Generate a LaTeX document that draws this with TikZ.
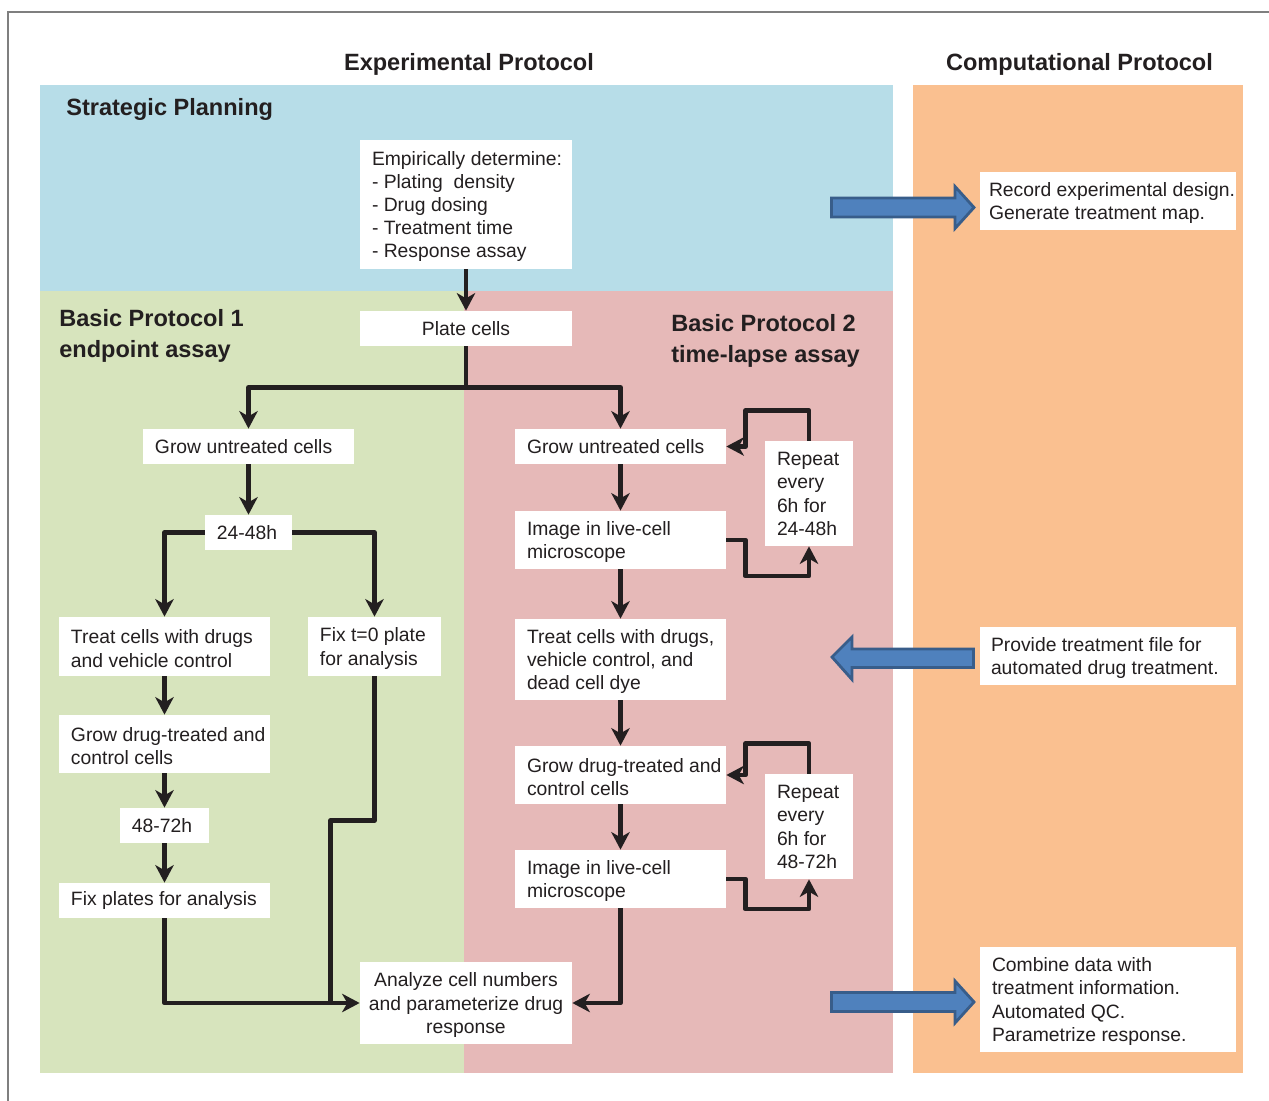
\documentclass[tikz,border=0pt]{standalone}
\usepackage{fontspec}
\setmainfont{Liberation Sans}
\usetikzlibrary{arrows.meta,calc}
\definecolor{tc}{HTML}{231F20}
\definecolor{bluebg}{HTML}{B7DDE8}
\definecolor{greenbg}{HTML}{D7E4BD}
\definecolor{pinkbg}{HTML}{E6B9B8}
\definecolor{orangebg}{HTML}{FAC090}
\definecolor{arrowfill}{HTML}{4F81BD}
\definecolor{arrowline}{HTML}{385D8A}
\definecolor{framegray}{HTML}{7F7F7F}
\newcommand\ntxt{\fontsize{11}{13.2}\selectfont}
\newcommand\ttxt{\fontsize{13.4}{17.9}\selectfont\bfseries}
\begin{document}
\begin{tikzpicture}[x=0.02cm,y=-0.02cm,
  bx/.style 2 args={fill=white, inner sep=0pt, minimum width=#1*0.02cm, minimum height=#2*0.02cm},
  lbl/.style={anchor=west, xshift=0.24cm, yshift=-0.04cm, align=left, inner sep=0pt, font=\ntxt, text=tc},
  one/.style={yshift=0.04cm},
  ctxt/.style={align=center, font=\ntxt, text=tc},
  conn/.style={draw=tc, line width=2.7pt, line join=round, -{Stealth[length=10pt,width=10.5pt,inset=3pt]}},
  plain/.style={draw=tc, line width=2.7pt, line join=round},
  blk/.style={fill=arrowfill, draw=arrowline, line width=1.6pt, line join=miter},
  ttl/.style={font=\ttxt, text=tc, inner sep=0pt, align=left},
]
\useasboundingbox (0,0) rectangle (1269,1101);
\fill[white] (0,0) rectangle (1269,1101);
% frame
\draw[framegray, line width=0.8pt] (8,1101) -- (8,12) -- (1269,12);
% regions
\fill[bluebg] (40,85) rectangle (893,291);
\fill[greenbg] (40,291) rectangle (464,1073);
\fill[pinkbg] (464,291) rectangle (893,1073);
\fill[orangebg] (913,85) rectangle (1243,1073);
% titles
\node[ttl] (t1) at (469,64) {Experimental Protocol};
\node[ttl] (t2) at (1079.5,64) {Computational Protocol};
\node[ttl, anchor=west] (t3) at (66,109) {Strategic Planning};
\node[ttl, anchor=north west] (t4) at (59,309) {Basic Protocol 1\\endpoint assay};
\node[ttl, anchor=north west] (t5) at (671,314) {Basic Protocol 2\\time-lapse assay};
% boxes
\node[bx={212}{129}, label={[lbl]west:{Empirically determine:\\- Plating\ \ density\\- Drug dosing\\- Treatment time\\- Response assay}}] (emp) at (466,204.5) {};
\node[bx={212}{35}, ctxt] (plate) at (466,328.5) {Plate cells};
\node[bx={211}{35}, label={[lbl,one]west:{Grow untreated cells}}] (growL) at (248.5,446.5) {};
\node[bx={87}{35}, label={[lbl,one]west:{24-48h}}] (h2448) at (248.5,532.5) {};
\node[bx={211}{59}, label={[lbl]west:{Treat cells with drugs\\and vehicle control}}] (treatL) at (164.5,646.5) {};
\node[bx={133}{59}, label={[lbl]west:{Fix t=0 plate\\for analysis}}] (fix0) at (374.5,646.5) {};
\node[bx={211}{58}, label={[lbl]west:{Grow drug-treated and\\control cells}}] (growDL) at (164.5,744) {};
\node[bx={89}{35}, label={[lbl,one]west:{48-72h}}] (h4872) at (164.5,825.5) {};
\node[bx={211}{35}, label={[lbl,one]west:{Fix plates for analysis}}] (fixP) at (164.5,900.5) {};
\node[bx={212}{82}, ctxt, text depth=-0.06cm] (analyze) at (466,1003) {Analyze cell numbers\\and parameterize drug\\response};
\node[bx={211}{35}, label={[lbl,one]west:{Grow untreated cells}}] (growR) at (620.5,446.5) {};
\node[bx={211}{58}, label={[lbl]west:{Image in live-cell\\microscope}}] (imgR) at (620.5,540) {};
\node[bx={88}{105}, label={[lbl,yshift=0.03cm]west:{Repeat\\every\\6h for\\24-48h}}] (rep1) at (809,493.5) {};
\node[bx={211}{81}, label={[lbl]west:{Treat cells with drugs,\\vehicle control, and\\dead cell dye}}] (treatR) at (620.5,659.5) {};
\node[bx={211}{58}, label={[lbl]west:{Grow drug-treated and\\control cells}}] (growDR) at (620.5,775) {};
\node[bx={88}{105}, label={[lbl,yshift=0.03cm]west:{Repeat\\every\\6h for\\48-72h}}] (rep2) at (809,826.5) {};
\node[bx={211}{58}, label={[lbl]west:{Image in live-cell\\microscope}}] (imgR2) at (620.5,879) {};
\node[bx={256}{58}, label={[lbl,xshift=-0.06cm]west:{Record experimental design.\\Generate treatment map.}}] (rec) at (1108,201) {};
\node[bx={256}{58}, label={[lbl,xshift=-0.02cm]west:{Provide treatment file for\\automated drug treatment.}}] (prov) at (1108,656) {};
\node[bx={256}{105}, label={[lbl]west:{Combine data with\\treatment information.\\Automated QC.\\Parametrize response.}}] (comb) at (1108,999.5) {};
% connectors
\coordinate (split) at ($(plate.south)+(0,41)$);
\draw[conn] (emp.south) -- (plate.north);
\draw[plain] (plate.south) -- (split);
\draw[conn] (split) -| (growL.north);
\draw[conn] (split) -| (growR.north);
\draw[conn] (growL.south) -- (h2448.north);
\draw[conn] (h2448.west) -| (treatL.north);
\draw[conn] (h2448.east) -| (fix0.north);
\draw[conn] (treatL.south) -- (growDL.north);
\draw[conn] (growDL.south) -- (h4872.north);
\draw[conn] (h4872.south) -- (fixP.north);
\draw[conn] (fixP.south) |- (analyze.west);
\draw[plain] (fix0.south) -- ++(0,144) -| ($(analyze.west)+(-29,0)$);
\draw[conn] (growR.south) -- (imgR.north);
\draw[conn] (imgR.south) -- (treatR.north);
\draw[conn] (treatR.south) -- (growDR.north);
\draw[conn] (growDR.south) -- (imgR2.north);
\draw[conn] (imgR2.south) |- (analyze.east);
\draw[conn] (imgR.east) -- ++(19,0) -- ++(0,36) -| (rep1.south);
\draw[conn] (rep1.north) -- ++(0,-30) -| ($(growR.east)+(19,0)$) -- (growR.east);
\draw[conn] (imgR2.east) -- ++(19,0) -- ++(0,30) -| (rep2.south);
\draw[conn] (rep2.north) -- ++(0,-30) -| ($(growDR.east)+(19,0)$) -- (growDR.east);
% block arrows
\draw[blk] (974,207.5) -- (955,186.5) -- (955,198) -- (831.5,198) -- (831.5,217) -- (955,217) -- (955,228.5) -- cycle;
\draw[blk] (832,657) -- (852,637) -- (852,649) -- (973.5,649) -- (973.5,667.5) -- (852,667.5) -- (852,679.5) -- cycle;
\draw[blk] (974,1002) -- (955,981) -- (955,992.5) -- (831.5,992.5) -- (831.5,1011.5) -- (955,1011.5) -- (955,1023) -- cycle;
\end{tikzpicture}
\end{document}
